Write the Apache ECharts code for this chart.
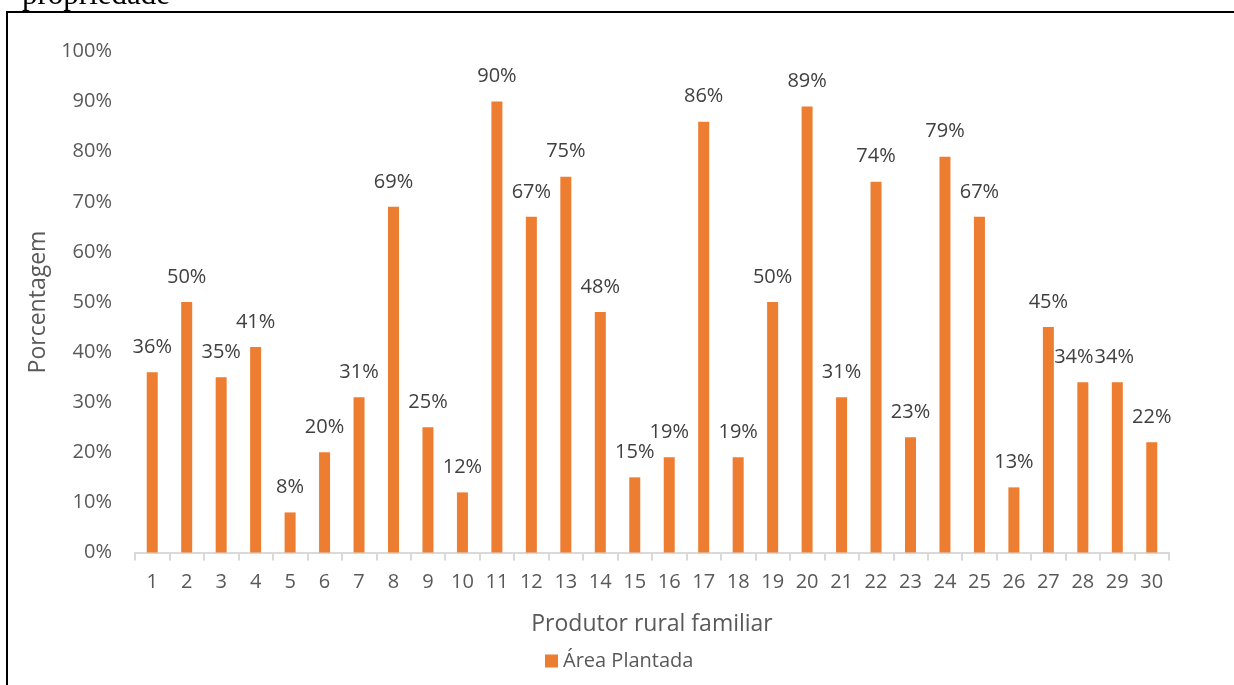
<!DOCTYPE html>
<html>
<head>
<meta charset="utf-8">
<title>Área Plantada</title>
<script src="https://cdn.jsdelivr.net/npm/echarts@6/dist/echarts.min.js"></script>
<style>
  html, body { margin: 0; padding: 0; background: #fff; }
  #chart { width: 1234px; height: 685px; }
</style>
</head>
<body>
<div id="chart"></div>
<script>
// Produtores rurais familiares (1..30) and share of planted area (%)
const produtores = ['1','2','3','4','5','6','7','8','9','10','11','12','13','14','15',
                    '16','17','18','19','20','21','22','23','24','25','26','27','28','29','30'];
const areaPlantada = [36, 50, 35, 41, 8, 20, 31, 69, 25, 12, 90, 67, 75, 48, 15,
                      19, 86, 19, 50, 89, 31, 74, 23, 79, 67, 13, 45, 34, 34, 22];
const yTicks = { min: 0, max: 100, interval: 10 };

// nudge the two neighbouring "34%" labels so they do not collide
const labelNudge = { 27: [-9, 0], 28: [-3, 0] };

const chart = echarts.init(document.getElementById('chart'), null, { renderer: 'canvas' });
const FONT = '"Open Sans", "Noto Sans", sans-serif';

const barData = areaPlantada.map((v, i) =>
  labelNudge[i] ? { value: v, label: { offset: labelNudge[i] } } : v);

chart.setOption({
  animation: false,
  backgroundColor: '#ffffff',
  graphic: [
    {
      type: 'text',
      left: 22,
      top: -20,
      style: { text: 'propriedade', font: '31px "Liberation Serif", "DejaVu Serif", serif', fill: '#000' }
    },
    {
      type: 'rect',
      shape: { x: 7, y: 12, width: 1300, height: 700 },
      style: { fill: 'none', stroke: '#000', lineWidth: 2 },
      z: -1
    }
  ],
  grid: { left: 135, right: 65, top: 51.5, bottom: 132.5, containLabel: false },
  legend: {
    data: ['Área Plantada'],
    left: 540,
    top: 646,
    icon: 'rect',
    itemWidth: 13,
    itemHeight: 13,
    itemGap: 5,
    textStyle: { fontFamily: FONT, fontSize: 20, color: '#595959' }
  },
  xAxis: {
    type: 'category',
    data: produtores,
    name: 'Produtor rural familiar',
    nameLocation: 'middle',
    nameGap: 60,
    nameTextStyle: { fontFamily: FONT, fontSize: 23, color: '#595959' },
    axisLine: { lineStyle: { color: '#D9D9D9', width: 2 } },
    axisTick: { show: true, length: 8, lineStyle: { color: '#D9D9D9', width: 2 } },
    axisLabel: { fontFamily: FONT, fontSize: 20, color: '#595959', margin: 20 }
  },
  yAxis: {
    type: 'value',
    min: yTicks.min,
    max: yTicks.max,
    interval: yTicks.interval,
    name: 'Porcentagem',
    nameLocation: 'middle',
    nameGap: 71,
    nameRotate: 90,
    nameTextStyle: { fontFamily: FONT, fontSize: 23, color: '#595959' },
    axisLine: { show: false },
    axisTick: { show: false },
    splitLine: { show: false },
    axisLabel: { fontFamily: FONT, fontSize: 20, color: '#595959', margin: 23, formatter: '{value}%' }
  },
  series: [{
    name: 'Área Plantada',
    type: 'bar',
    data: barData,
    barWidth: 11,
    itemStyle: { color: '#ED7D31' },
    label: {
      show: true,
      position: 'top',
      distance: 14,
      formatter: '{c}%',
      fontFamily: FONT,
      fontSize: 20,
      lineHeight: 22,
      color: '#404040'
    }
  }]
});
</script>
</body>
</html>
